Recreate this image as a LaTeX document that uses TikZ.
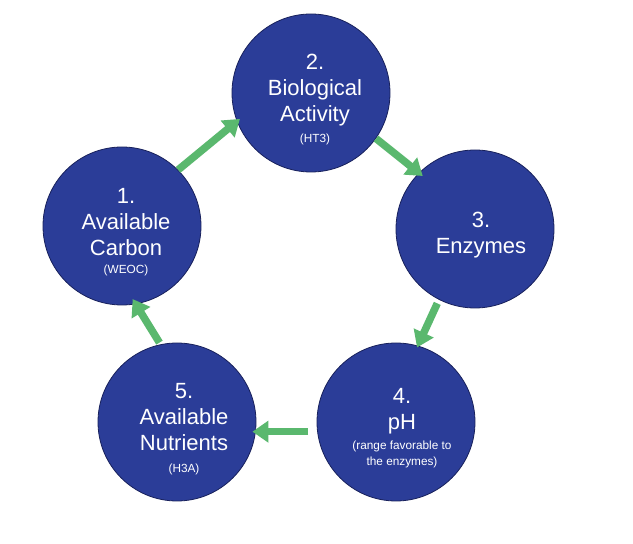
\documentclass[tikz,border=0pt]{standalone}
\usepackage{fontspec}
\setmainfont{Liberation Sans}
\usetikzlibrary{arrows.meta}
\definecolor{circblue}{RGB}{43,61,152}
\definecolor{circedge}{RGB}{24,33,92}
\definecolor{arrgreen}{RGB}{90,184,110}
\begin{document}
\begin{tikzpicture}[x=1pt,y=1pt,
  stage/.style={circle, fill=circblue, draw=circedge, line width=0.8pt, minimum size=158pt, inner sep=0pt},
  bigtxt/.style={text=white, align=center, anchor=base, inner sep=0pt, font=\fontsize{22}{26}\selectfont},
  smalltxt/.style={text=white, align=center, anchor=base, inner sep=0pt, font=\fontsize{11.8}{16}\selectfont},
  flow/.style={draw=arrgreen, line width=7.5pt, -{Triangle[width=21pt,length=16pt]}}
]
\useasboundingbox[fill=white] (0,0) rectangle (633,544);

\node[stage] (c1) at (122,318) {};
\node[stage] (c2) at (311,451) {};
\node[stage] (c3) at (475,315) {};
\node[stage] (c4) at (396,122) {};
\node[stage] (c5) at (177,122) {};

% base anchor = baseline of the last line
\node[bigtxt] (t1) at ([shift={(4,-30)}]c1.center) {1.\\Available\\Carbon};
\node[smalltxt] (s1) at ([shift={(4,-48)}]c1.center) {(WEOC)};

\node[bigtxt] (t2) at ([shift={(4,-29)}]c2.center) {2.\\Biological\\Activity};
\node[smalltxt] (s2) at ([shift={(4,-50)}]c2.center) {(HT3)};

\node[bigtxt] (t3) at ([shift={(6,-25)}]c3.center) {3.\\Enzymes};

\node[bigtxt] (t4) at ([shift={(6,-8)}]c4.center) {4.\\pH};
\node[smalltxt] (s4) at ([shift={(6,-44)}]c4.center) {(range favorable to\\the enzymes)};

\node[bigtxt] (t5) at ([shift={(7,-29)}]c5.center) {5.\\Available\\Nutrients};
\node[smalltxt] (s5) at ([shift={(7,-51)}]c5.center) {(H3A)};

\draw[flow, shorten >=-4pt] (c1.45) -- (c2.201);
\draw[flow, shorten >=-5pt] (c2.325) -- (c3.135);
\draw[flow, shorten <=4pt, shorten >=-2pt] (c3.243) -- (c4.74);
\draw[flow, shorten <=9pt, shorten >=-4pt] (c4.187) -- (c4.187 -| c5.east);
\draw[flow, shorten <=2pt, shorten >=-6pt] (c5.102) -- (c1.280);
\end{tikzpicture}
\end{document}
